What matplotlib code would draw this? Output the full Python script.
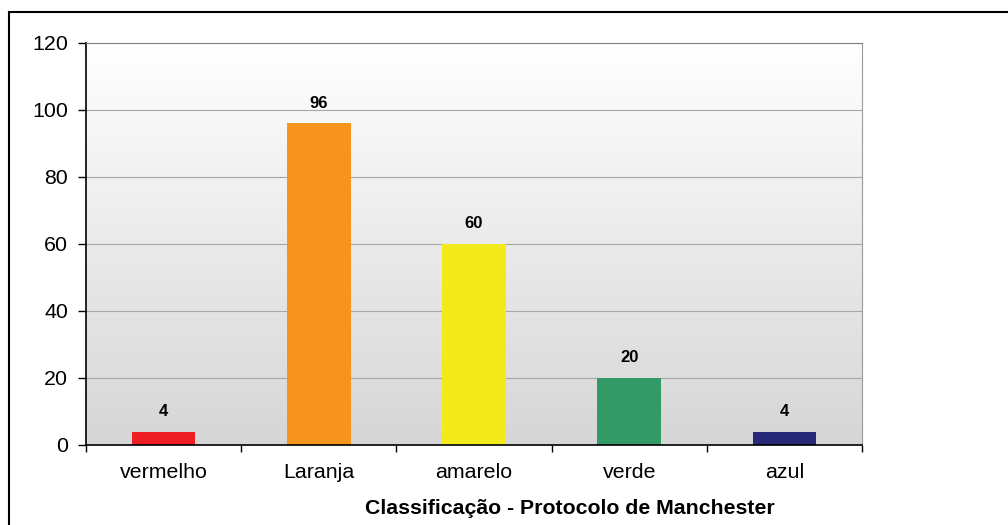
import matplotlib
matplotlib.use("Agg")
import matplotlib.pyplot as plt
import numpy as np
from matplotlib.lines import Line2D
from matplotlib.colors import LinearSegmentedColormap

categories = ["vermelho", "Laranja", "amarelo", "verde", "azul"]
values = [4, 96, 60, 20, 4]
colors = ["#ED1F24", "#F7941D", "#F2EA1A", "#339966", "#29297A"]
yticks = [0, 20, 40, 60, 80, 100, 120]
xlabel = "Classificação - Protocolo de Manchester"

plt.rcParams["font.family"] = ["Liberation Sans", "DejaVu Sans"]

fig = plt.figure(figsize=(10.08, 5.25), dpi=100)
ax = fig.add_axes([86/1008, 1-445/525, (862-86)/1008, (445-42.7)/525])

x = np.arange(len(categories))
ax.set_xlim(-0.5, len(categories) - 0.5)
ax.set_ylim(0, 120)

# gradient background
grad = np.linspace(0, 1, 256).reshape(-1, 1)
cmap = LinearSegmentedColormap.from_list("bg", ["#D6D6D6", "#FFFFFF"])
ax.imshow(grad, cmap=cmap, aspect="auto", origin="lower",
          extent=[-0.5, len(categories) - 0.5, 0, 120], zorder=0)

ax.set_yticks(yticks)
for yv in yticks[1:]:
    ax.axhline(yv, color="#A6A6A6", linewidth=0.8, zorder=1)

ax.bar(x, values, width=0.41, color=colors, zorder=2)
for xi, v in zip(x, values):
    ax.annotate(str(v), (xi, v), xytext=(0, 9), textcoords="offset points",
                ha="center", va="bottom", fontsize=12, fontweight="bold", zorder=3)

ax.set_xticks(x)
ax.set_xticklabels(categories, fontsize=15.4)
ax.set_xticks(np.arange(-0.5, len(categories)), minor=True)
ax.tick_params(axis="x", which="major", length=0, pad=13)
ax.tick_params(axis="x", which="minor", length=5, width=1, color="black")
ax.tick_params(axis="y", labelsize=15.4, length=6, width=1, pad=7)

ax.set_xlabel(xlabel, fontsize=15.3, fontweight="bold")
ax.xaxis.set_label_coords((570 - 86) / 776, -(509 - 445) / 402.3)
ax.xaxis.label.set_verticalalignment("center")
ax.xaxis.label.set_horizontalalignment("center")

ax.spines["left"].set_color("black")
ax.spines["bottom"].set_color("black")
ax.spines["left"].set_linewidth(1.2)
ax.spines["bottom"].set_linewidth(1.2)
ax.spines["top"].set_color("#808080")
ax.spines["right"].set_color("#999999")

# outer figure border (top and left visible)
fig.add_artist(Line2D([9/1008, 1.01], [1-12/525, 1-12/525], color="black", linewidth=1.5, transform=fig.transFigure))
fig.add_artist(Line2D([9/1008, 9/1008], [1-12/525, -0.01], color="black", linewidth=1.5, transform=fig.transFigure))

fig.savefig("out.png", dpi=100)
